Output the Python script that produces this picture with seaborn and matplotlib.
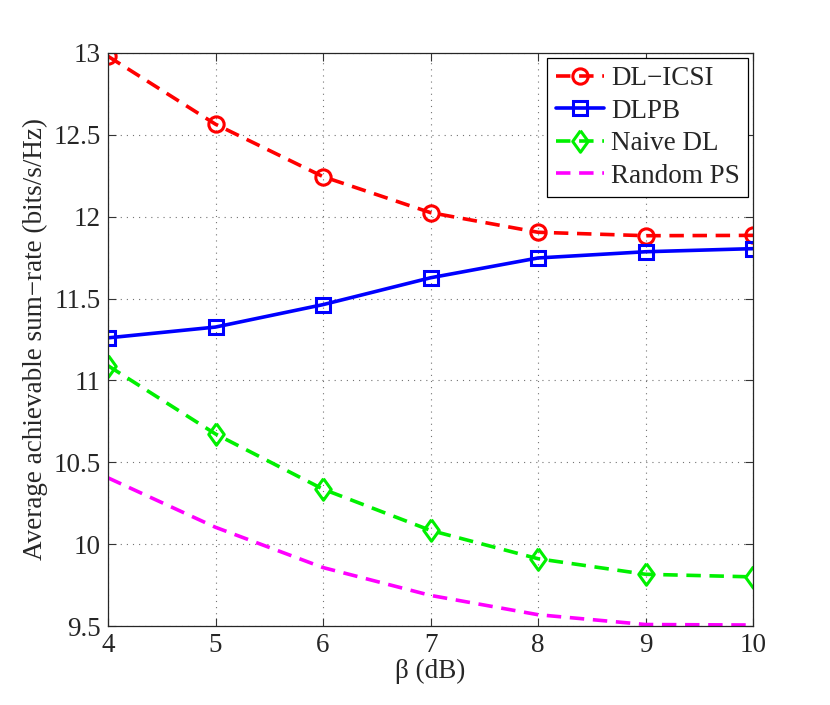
import seaborn as sns
import matplotlib
matplotlib.use('Agg')
import matplotlib.pyplot as plt
import numpy as np
import pandas as pd
from matplotlib.ticker import FuncFormatter

sns.set_style('ticks')
plt.rcParams['font.family'] = ['Liberation Serif', 'DejaVu Serif']

# 数据
beta = [4, 5, 6, 7, 8, 9, 10]
dl_icsi = [12.98, 12.565, 12.245, 12.025, 11.905, 11.884, 11.886]
dlpb = [11.26, 11.326, 11.463, 11.627, 11.748, 11.786, 11.805]
naive_dl = [11.09, 10.673, 10.336, 10.084, 9.911, 9.816, 9.80]
random_ps = [10.405, 10.103, 9.857, 9.687, 9.569, 9.509, 9.506]

labels = ['DL\u2212ICSI', 'DLPB', 'Naive DL', 'Random PS']
colors = ['#ff0000', '#0000ff', '#00f000', '#ff00ff']
diamond = [(0, 1), (0.72, 0), (0, -1), (-0.72, 0), (0, 1)]
markers = ['o', 's', diamond, None]
msizes = [11, 10, 15.5, 0]
dash = (4, 2.4)

df = []
for lab, vals in zip(labels, [dl_icsi, dlpb, naive_dl, random_ps]):
    d = pd.DataFrame({'beta': beta, 'rate': vals})
    d['method'] = lab
    df.append(d)
df = pd.concat(df, ignore_index=True)

fig = plt.figure(figsize=(8.3, 7.05), dpi=100)
ax = fig.add_axes([108 / 830, 1 - 626 / 705, 645 / 830, 573 / 705])

for lab, c, m, ms in zip(labels, colors, markers, msizes):
    sub = df[df['method'] == lab]
    ls = '-' if lab == 'DLPB' else '--'
    kw = dict(marker=m, markersize=ms, markerfacecolor='none',
              markeredgecolor=c, markeredgewidth=2.2) if m is not None else {}
    sns.lineplot(x='beta', y='rate', data=sub, color=c, linewidth=2.6,
                 linestyle=ls, label=lab, ax=ax, **kw)
    if ls == '--':
        ax.lines[-1].set_dashes(dash)

ax.set_xlim(4, 10)
ax.set_ylim(9.5, 13)
ax.set_xticks(beta)
ax.set_yticks([9.5, 10, 10.5, 11, 11.5, 12, 12.5, 13])
ax.yaxis.set_major_formatter(FuncFormatter(lambda v, p: '%g' % v))
ax.grid(True, linestyle=(0, (1, 4.5)), color='0.45', linewidth=0.8)
ax.tick_params(direction='in', length=6, width=0.8, top=True, right=True,
               labelsize=19.5, color='0.2', pad=5)
for s in ax.spines.values():
    s.set_color('0.15')
    s.set_linewidth(0.9)

ax.set_xlabel('\u03b2 (dB)', fontsize=19.5, labelpad=1)
ax.set_ylabel('Average achievable sum\u2212rate (bits/s/Hz)', fontsize=19.5, labelpad=4)

leg = ax.legend(loc='upper right', bbox_to_anchor=(748 / 830, 1 - 58 / 705),
                bbox_transform=fig.transFigure, fontsize=19.5, frameon=True,
                fancybox=False, framealpha=1, edgecolor='black',
                handlelength=1.8, handletextpad=0.25, borderpad=0.3,
                labelspacing=0.28, borderaxespad=0)
leg.get_frame().set_linewidth(0.9)
for h in leg.get_lines():
    if h.get_linestyle() != '-':
        h.set_dashes(dash)

plt.savefig('out.png', dpi=100)
